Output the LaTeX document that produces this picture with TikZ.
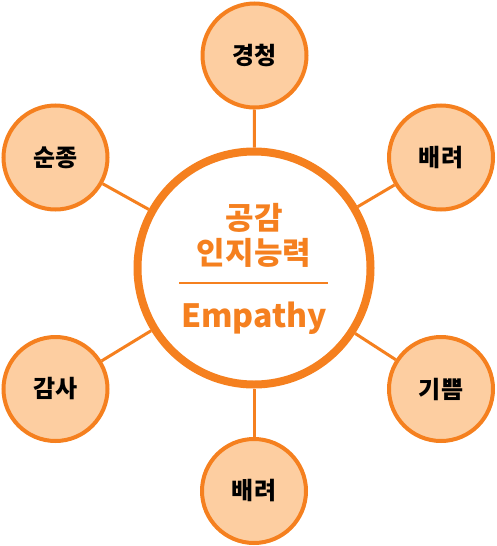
\documentclass[tikz,border=0pt]{standalone}
\usepackage{fontspec}
\setmainfont{Noto Sans CJK KR}
\usepackage{tikz}
\usetikzlibrary{positioning,calc}
\definecolor{emporange}{RGB}{245,128,31}
\definecolor{emppeach}{RGB}{253,206,161}

\begin{document}
\begin{tikzpicture}[
    x=1pt, y=-1pt,
    hub/.style={circle, draw=emporange, fill=white, line width=8pt,
        minimum size=233pt, inner sep=0pt},
    trait/.style={circle, draw=emporange, fill=emppeach, line width=4pt,
        minimum size=104pt, inner sep=0pt, font=\fontsize{24}{28}\selectfont\bfseries},
    spoke/.style={draw=emporange, line width=3pt},
    hubtext/.style={text=emporange, font=\fontsize{31}{35}\selectfont\bfseries, align=center}
]
\useasboundingbox (0,0) rectangle (496,546);

\node[hub] (core) at (254,268) {};
\node[trait] (listen) at (254.5,55.5) {경청};
\node[trait] (care1) at (441,157.5) {배려};
\node[trait] (obey) at (55.5,157.5) {순종};
\node[trait] (thanks) at (55.5,389) {감사};
\node[trait] (joy) at (441,389) {기쁨};
\node[trait] (care2) at (254,491) {배려};

\draw[spoke] (listen) -- (core);
\draw[spoke] (care1) -- (core);
\draw[spoke] (obey) -- (core);
\draw[spoke] (thanks) -- (core);
\draw[spoke] (joy) -- (core);
\draw[spoke] (care2) -- (core);

\node[hubtext] (title) at (254,235) {공감\\인지능력};
\coordinate (divL) at (179,283);
\coordinate (divR) at (328,283);
\draw[emporange, line width=2pt] (divL) -- (divR);
\node[hubtext, font=\fontsize{32}{36}\selectfont\bfseries] (eng) at (254,318) {Empathy};
\end{tikzpicture}
\end{document}
